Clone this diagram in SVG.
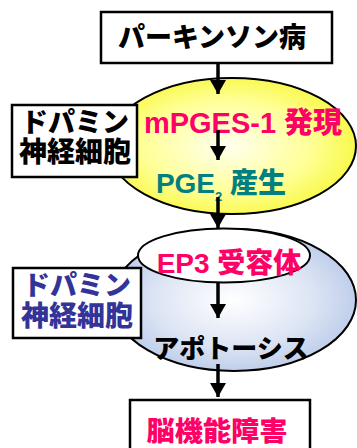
<svg xmlns="http://www.w3.org/2000/svg" width="357" height="448" viewBox="0 0 357 448">
<defs>
<radialGradient id="gy" cx="0.48" cy="0.5" r="0.55">
<stop offset="0" stop-color="#FFFFF0"/>
<stop offset="0.6" stop-color="#FFFF99"/>
<stop offset="1" stop-color="#F8F840"/>
</radialGradient>
<radialGradient id="gb" cx="0.5" cy="0.5" r="0.55">
<stop offset="0" stop-color="#FFFFFF"/>
<stop offset="0.6" stop-color="#DCE4F4"/>
<stop offset="1" stop-color="#B8C8E8"/>
</radialGradient>
<marker id="ah" markerUnits="userSpaceOnUse" markerWidth="16" markerHeight="16" refX="14" refY="8" orient="auto">
<path d="M0,0 L14,8 L0,16 Z" fill="#000"/>
</marker>
<style>
.box{fill:#fff;stroke:#000;stroke-width:2.5}
.ell{stroke:#000;stroke-width:2}
.t{font-family:"Liberation Sans","Noto Sans CJK JP",sans-serif;font-weight:bold;text-anchor:middle}
.j{font-family:"Noto Sans CJK JP",sans-serif;font-weight:900;text-anchor:middle}
.cj{font-family:"Noto Sans CJK JP",sans-serif;font-weight:900}
.pink{fill:#FF0066}
.teal{fill:#008080}
.navy{fill:#333399}
.blk{fill:#000}
.arr{stroke:#000;stroke-width:3.5;fill:none;marker-end:url(#ah)}
</style>
</defs>
<g id="yellow-cell">
<ellipse class="ell" cx="232" cy="146" rx="124" ry="68" fill="url(#gy)"/>
</g>
<g id="blue-cell">
<ellipse class="ell" cx="234" cy="300" rx="122" ry="71" fill="url(#gb)"/>
</g>
<g id="parkinson">
<rect class="box" x="101" y="12" width="231" height="51"/>
<text class="j blk" x="212" y="47" font-size="27">パーキンソン病</text>
</g>
<g id="dopamine1">
<rect class="box" x="12" y="105" width="125" height="72"/>
<text class="j blk" font-size="27"><tspan x="75" y="132">ドパミン</tspan><tspan x="75" y="162" font-size="28">神経細胞</tspan></text>
</g>
<g id="mpges">
<text class="t pink" x="243" y="133" font-size="29">mPGES-1 <tspan class="cj">発現</tspan></text>
</g>
<g id="pge2">
<text class="t teal" x="221" y="193" font-size="28">PGE<tspan font-size="13" dy="8">2</tspan><tspan dy="-8"> </tspan><tspan class="cj">産生</tspan></text>
</g>
<g id="ep3">
<ellipse class="ell" cx="224" cy="255.5" rx="86" ry="27" fill="#fff"/>
<text class="t pink" x="229" y="273" font-size="28">EP3 <tspan class="cj">受容体</tspan></text>
</g>
<g id="dopamine2">
<rect class="box" x="13" y="268" width="128" height="70"/>
<text class="j navy" font-size="27"><tspan x="77" y="295">ドパミン</tspan><tspan x="77" y="326" font-size="28">神経細胞</tspan></text>
</g>
<g id="apoptosis">
<text class="j blk" x="231" y="358" font-size="26">アポトーシス</text>
</g>
<g id="brain">
<rect class="box" x="130" y="400" width="180" height="60"/>
<text class="j pink" x="217" y="441" font-size="27" textLength="141" lengthAdjust="spacingAndGlyphs">脳機能障害</text>
</g>
<g id="connectors">
<line class="arr" x1="218" y1="63" x2="218" y2="94"/>
<line class="arr" x1="218" y1="130" x2="218" y2="160"/>
<line class="arr" x1="218" y1="197" x2="218" y2="228"/>
<line class="arr" x1="218" y1="283" x2="218" y2="318"/>
<line class="arr" x1="218" y1="364" x2="218" y2="397"/>
</g>
</svg>
